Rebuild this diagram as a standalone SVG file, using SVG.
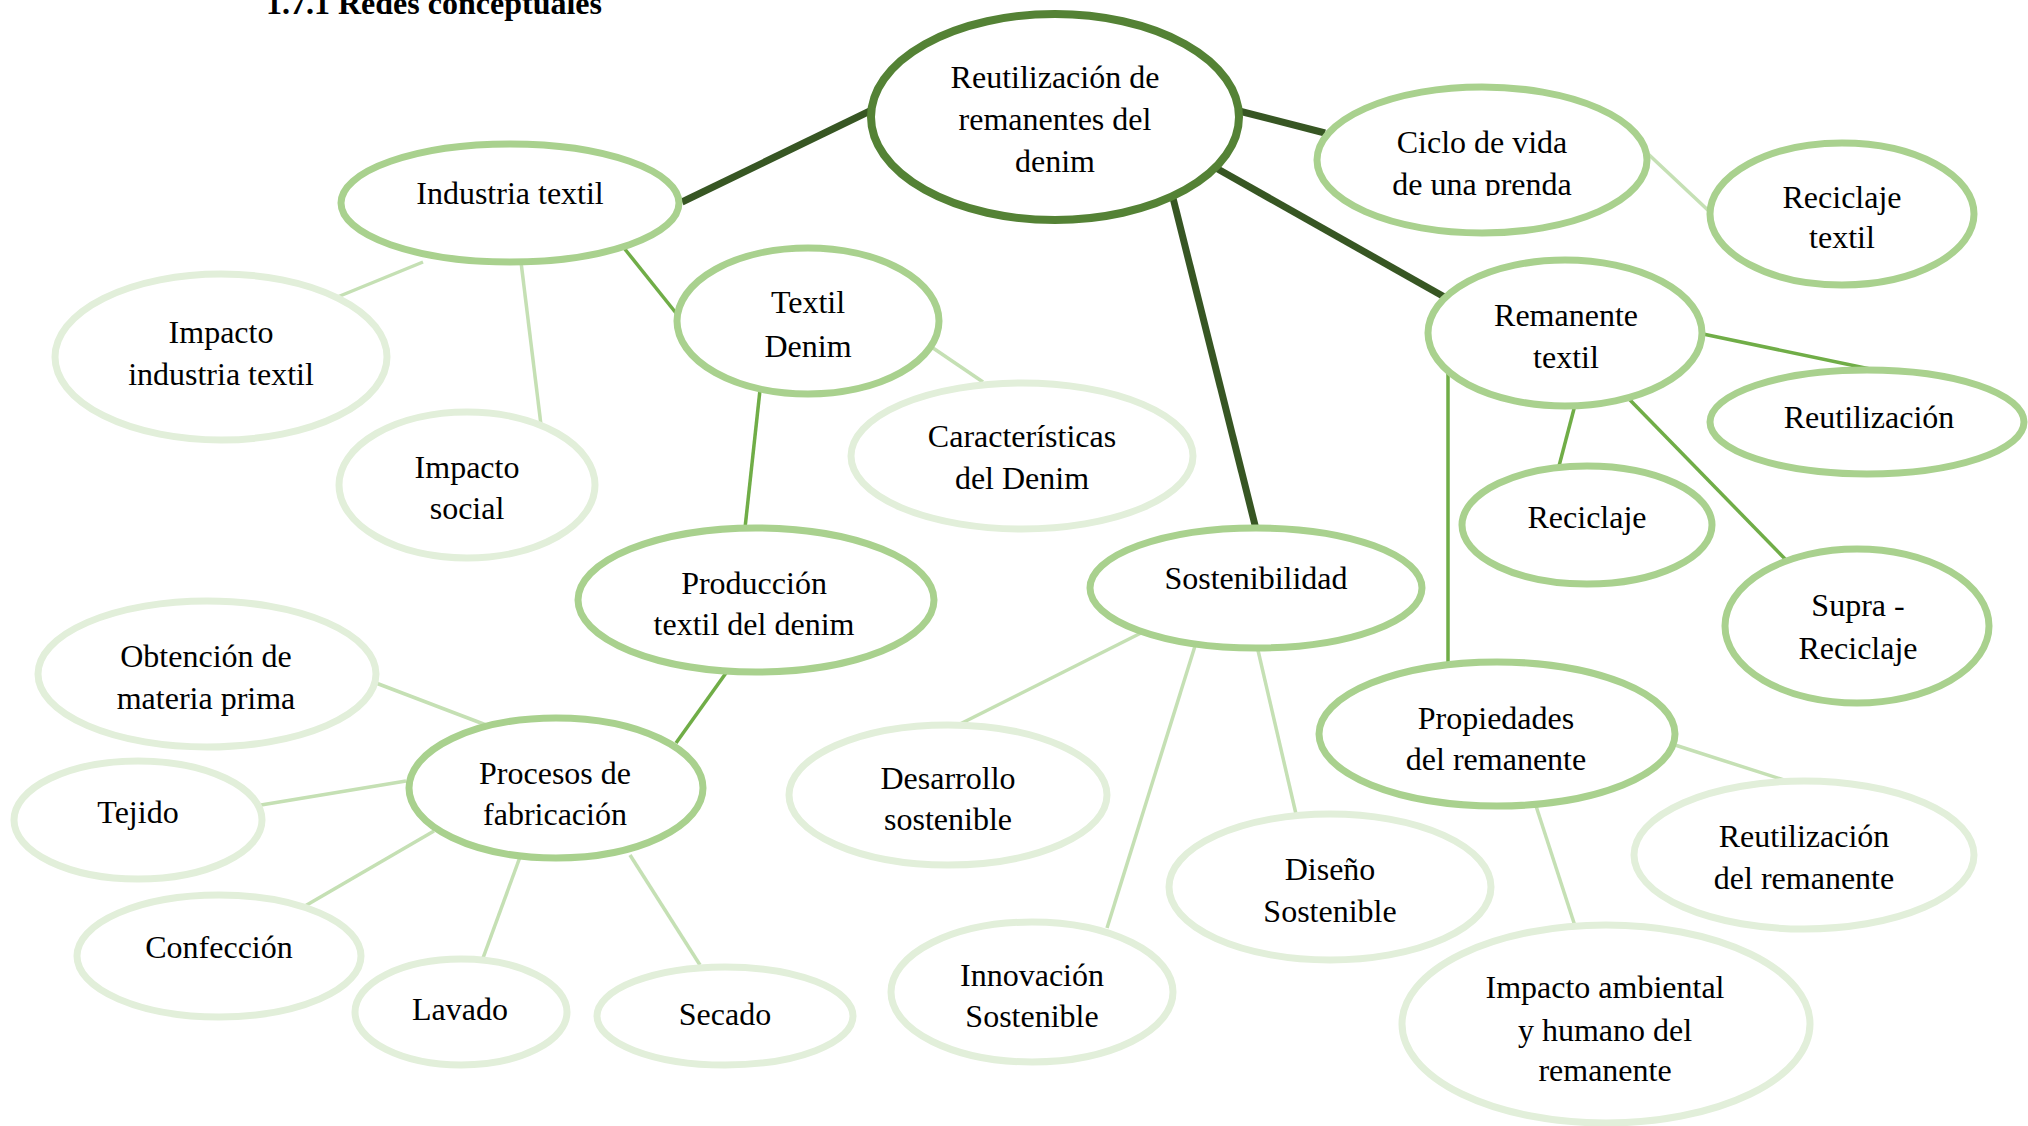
<svg xmlns="http://www.w3.org/2000/svg" width="2028" height="1126" viewBox="0 0 2028 1126">
  <style>
    text { font-family: "Liberation Serif", "Times New Roman", serif; font-size: 32px; fill: #000; text-anchor: middle; }
    .title { font-weight: bold; text-anchor: start; }
    ellipse { fill: #fff; }
    .root { stroke: #548235; stroke-width: 8; }
    .mid { stroke: #A9D18E; stroke-width: 7; }
    .pale { stroke: #E2EFDA; stroke-width: 7; }
    .c-dark { stroke: #375623; stroke-width: 7; }
    .c-mid { stroke: #70AD47; stroke-width: 3.5; }
    .c-pale { stroke: #C5E0B4; stroke-width: 3.5; }
  </style>
  <defs>
    <clipPath id="clip-ciclo"><rect x="1330" y="90" width="310" height="106"/></clipPath>
  </defs>
  <rect width="2028" height="1126" fill="#fff"/>

  <text class="title" x="266" y="14">1.7.1 Redes conceptuales</text>

  <g id="connectors">
    <!-- from the central topic -->
    <line class="c-dark" x1="682" y1="202" x2="872" y2="110"/>
    <line class="c-dark" x1="1239" y1="111" x2="1325" y2="133"/>
    <line class="c-dark" x1="1216" y1="168" x2="1448" y2="299"/>
    <line class="c-dark" x1="1173" y1="198" x2="1256" y2="529"/>
    <!-- Industria textil branch -->
    <line class="c-pale" x1="423" y1="262" x2="335" y2="298"/>
    <line class="c-pale" x1="521" y1="262" x2="541" y2="425"/>
    <line class="c-mid" x1="624" y1="248" x2="676" y2="313"/>
    <line class="c-pale" x1="933" y1="348" x2="983" y2="382"/>
    <line class="c-mid" x1="760" y1="390" x2="745" y2="528"/>
    <line class="c-mid" x1="726" y1="673" x2="676" y2="743"/>
    <!-- Procesos de fabricación -->
    <line class="c-pale" x1="494" y1="728" x2="376" y2="683"/>
    <line class="c-pale" x1="406" y1="781" x2="261" y2="805"/>
    <line class="c-pale" x1="434" y1="831" x2="305" y2="906"/>
    <line class="c-pale" x1="520" y1="857" x2="483" y2="958"/>
    <line class="c-pale" x1="630" y1="855" x2="700" y2="965"/>
    <!-- Sostenibilidad -->
    <line class="c-pale" x1="1141" y1="633" x2="960" y2="724"/>
    <line class="c-pale" x1="1195" y1="646" x2="1107" y2="928"/>
    <line class="c-pale" x1="1257" y1="646" x2="1296" y2="814"/>
    <!-- Ciclo de vida -->
    <line class="c-pale" x1="1646" y1="152" x2="1711" y2="213"/>
    <!-- Remanente textil -->
    <line class="c-mid" x1="1703" y1="334" x2="1870" y2="369"/>
    <line class="c-mid" x1="1575" y1="405" x2="1559" y2="466"/>
    <line class="c-mid" x1="1630" y1="400" x2="1790" y2="564"/>
    <line class="c-mid" x1="1448" y1="370" x2="1448" y2="663"/>
    <!-- Propiedades del remanente -->
    <line class="c-pale" x1="1675" y1="745" x2="1790" y2="782"/>
    <line class="c-pale" x1="1536" y1="806" x2="1575" y2="926"/>
  </g>

  <g id="n-root">
    <ellipse class="root" cx="1055" cy="117" rx="184" ry="103"/>
    <text x="1055" y="88">Reutilización de</text>
    <text x="1055" y="130">remanentes del</text>
    <text x="1055" y="172">denim</text>
  </g>

  <g id="n-industria">
    <ellipse class="mid" cx="510" cy="203" rx="169" ry="59"/>
    <text x="510" y="204">Industria textil</text>
  </g>
  <g id="n-textil-denim">
    <ellipse class="mid" cx="808" cy="321" rx="131" ry="73"/>
    <text x="808" y="313">Textil</text>
    <text x="808" y="357">Denim</text>
  </g>
  <g id="n-impacto-industria">
    <ellipse class="pale" cx="221" cy="357" rx="166" ry="83"/>
    <text x="221" y="343">Impacto</text>
    <text x="221" y="385">industria textil</text>
  </g>
  <g id="n-impacto-social">
    <ellipse class="pale" cx="467" cy="485" rx="128" ry="73"/>
    <text x="467" y="478">Impacto</text>
    <text x="467" y="519">social</text>
  </g>
  <g id="n-caracteristicas">
    <ellipse class="pale" cx="1022" cy="456" rx="171" ry="73"/>
    <text x="1022" y="447">Características</text>
    <text x="1022" y="489">del Denim</text>
  </g>
  <g id="n-produccion">
    <ellipse class="mid" cx="756" cy="600" rx="178" ry="72"/>
    <text x="754" y="594">Producción</text>
    <text x="754" y="635">textil del denim</text>
  </g>
  <g id="n-procesos">
    <ellipse class="mid" cx="556" cy="788" rx="147" ry="70"/>
    <text x="555" y="784">Procesos de</text>
    <text x="555" y="825">fabricación</text>
  </g>
  <g id="n-obtencion">
    <ellipse class="pale" cx="207" cy="674" rx="169" ry="73"/>
    <text x="206" y="667">Obtención de</text>
    <text x="206" y="709">materia prima</text>
  </g>
  <g id="n-tejido">
    <ellipse class="pale" cx="138" cy="820" rx="124" ry="59"/>
    <text x="138" y="823">Tejido</text>
  </g>
  <g id="n-confeccion">
    <ellipse class="pale" cx="219" cy="956" rx="142" ry="61"/>
    <text x="219" y="958">Confección</text>
  </g>
  <g id="n-lavado">
    <ellipse class="pale" cx="461" cy="1012" rx="106" ry="53"/>
    <text x="460" y="1020">Lavado</text>
  </g>
  <g id="n-secado">
    <ellipse class="pale" cx="725" cy="1016" rx="128" ry="49"/>
    <text x="725" y="1025">Secado</text>
  </g>

  <g id="n-sostenibilidad">
    <ellipse class="mid" cx="1256" cy="588" rx="166" ry="60"/>
    <text x="1256" y="589">Sostenibilidad</text>
  </g>
  <g id="n-desarrollo">
    <ellipse class="pale" cx="948" cy="795" rx="159" ry="70"/>
    <text x="948" y="789">Desarrollo</text>
    <text x="948" y="830">sostenible</text>
  </g>
  <g id="n-innovacion">
    <ellipse class="pale" cx="1032" cy="992" rx="141" ry="70"/>
    <text x="1032" y="986">Innovación</text>
    <text x="1032" y="1027">Sostenible</text>
  </g>
  <g id="n-diseno">
    <ellipse class="pale" cx="1330" cy="887" rx="161" ry="73"/>
    <text x="1330" y="880">Diseño</text>
    <text x="1330" y="922">Sostenible</text>
  </g>

  <g id="n-ciclo">
    <ellipse class="mid" cx="1482" cy="160" rx="165" ry="73"/>
    <g clip-path="url(#clip-ciclo)">
      <text x="1482" y="153">Ciclo de vida</text>
      <text x="1482" y="195">de una prenda</text>
    </g>
  </g>
  <g id="n-reciclaje-textil">
    <ellipse class="mid" cx="1842" cy="214" rx="132" ry="71"/>
    <text x="1842" y="208">Reciclaje</text>
    <text x="1842" y="248">textil</text>
  </g>
  <g id="n-remanente">
    <ellipse class="mid" cx="1565" cy="333" rx="137" ry="73"/>
    <text x="1566" y="326">Remanente</text>
    <text x="1566" y="368">textil</text>
  </g>
  <g id="n-reutilizacion">
    <ellipse class="mid" cx="1867" cy="422" rx="157" ry="52"/>
    <text x="1869" y="428">Reutilización</text>
  </g>
  <g id="n-reciclaje">
    <ellipse class="mid" cx="1587" cy="525" rx="125" ry="59"/>
    <text x="1587" y="528">Reciclaje</text>
  </g>
  <g id="n-supra">
    <ellipse class="mid" cx="1857" cy="626" rx="132" ry="77"/>
    <text x="1858" y="616">Supra -</text>
    <text x="1858" y="659">Reciclaje</text>
  </g>
  <g id="n-propiedades">
    <ellipse class="mid" cx="1497" cy="734" rx="178" ry="72"/>
    <text x="1496" y="729">Propiedades</text>
    <text x="1496" y="770">del remanente</text>
  </g>
  <g id="n-reutilizacion-remanente">
    <ellipse class="pale" cx="1804" cy="855" rx="170" ry="74"/>
    <text x="1804" y="847">Reutilización</text>
    <text x="1804" y="889">del remanente</text>
  </g>
  <g id="n-impacto-ambiental">
    <ellipse class="pale" cx="1606" cy="1024" rx="204" ry="99"/>
    <text x="1605" y="998">Impacto ambiental</text>
    <text x="1605" y="1041">y humano del</text>
    <text x="1605" y="1081">remanente</text>
  </g>
</svg>
